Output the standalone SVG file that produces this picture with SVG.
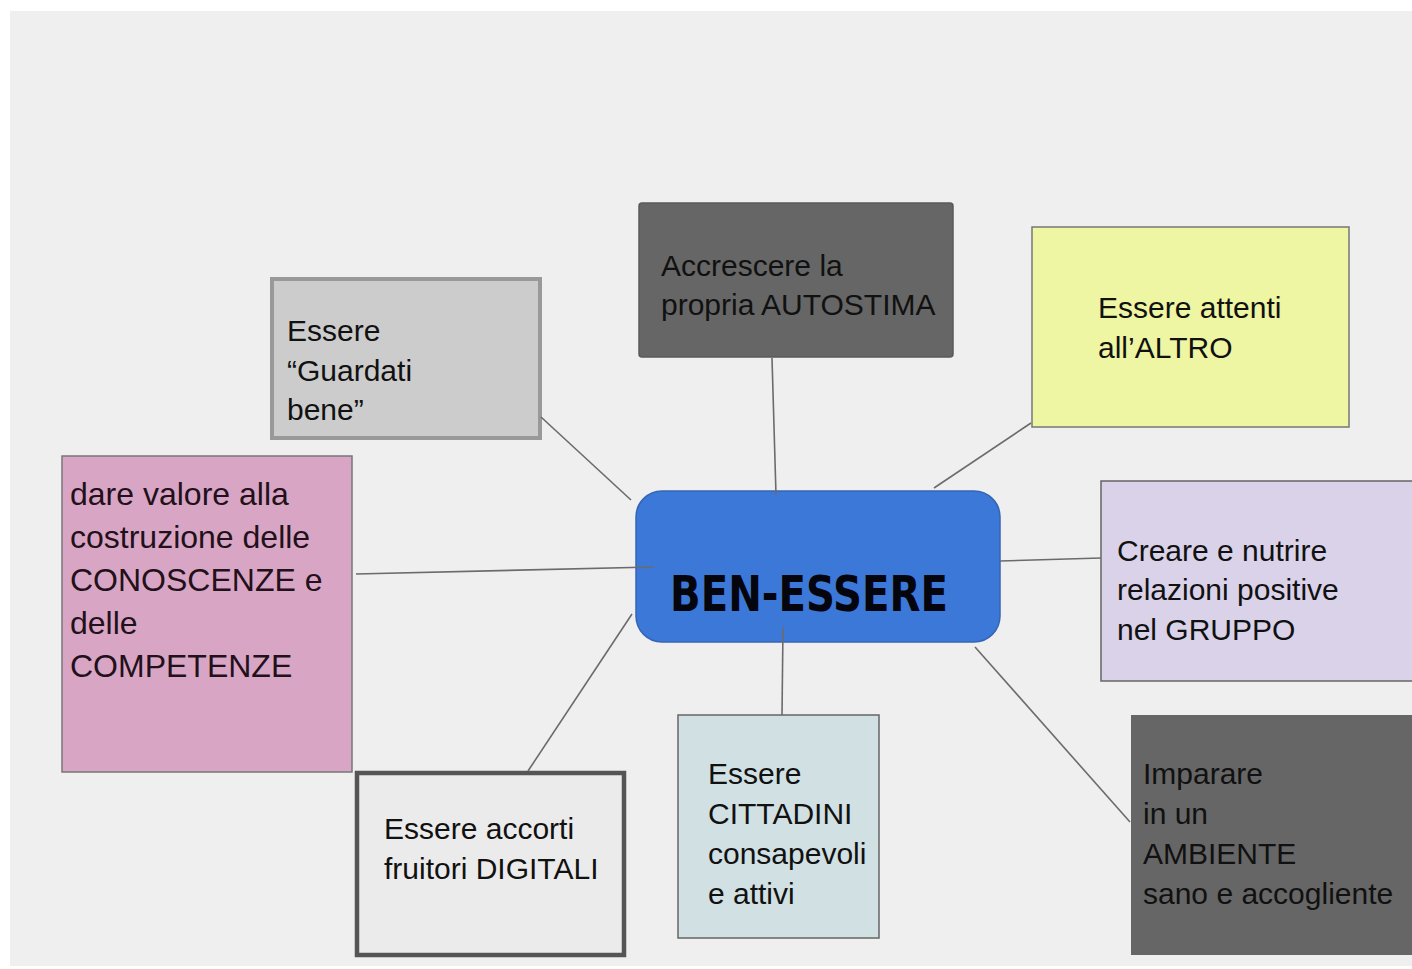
<svg xmlns="http://www.w3.org/2000/svg" width="1412" height="969" viewBox="0 0 1412 969">
<style>
.t{font-family:"Liberation Sans",Arial,sans-serif;font-size:30px;fill:#111}
.c{stroke:#6b6b6b;stroke-width:1.6;fill:none}
</style>
<rect x="0" y="0" width="1412" height="969" fill="#ffffff"/>
<rect x="10" y="11" width="1402" height="955" fill="#efefef"/>
<g id="node-autostima">
<rect x="639" y="203" width="314" height="154" rx="3" fill="#666666" stroke="#5a5a5a" stroke-width="1.5"/>
<text class="t" x="661" y="276">Accrescere la</text>
<text class="t" x="661" y="315">propria AUTOSTIMA</text>
</g>
<g id="node-altro">
<rect x="1032" y="227" width="317" height="200" fill="#eef5a3" stroke="#777" stroke-width="1.5"/>
<text class="t" x="1098" y="318">Essere attenti</text>
<text class="t" x="1098" y="358">all’ALTRO</text>
</g>
<g id="node-guardati">
<rect x="272" y="279" width="268" height="159" fill="#cccccc" stroke="#999999" stroke-width="4"/>
<text class="t" x="287" y="341">Essere</text>
<text class="t" x="287" y="381">“Guardati</text>
<text class="t" x="287" y="420">bene”</text>
</g>
<g id="node-conoscenze">
<rect x="62" y="456" width="290" height="316" fill="#d8a6c4" stroke="#777" stroke-width="1.5"/>
<g class="t" style="font-size:32px;fill:#22101a">
<text x="70" y="505">dare valore alla</text>
<text x="70" y="548">costruzione delle</text>
<text x="70" y="591">CONOSCENZE e</text>
<text x="70" y="634">delle</text>
<text x="70" y="677">COMPETENZE</text>
</g>
</g>
<g id="node-gruppo">
<rect x="1101" y="481" width="320" height="200" fill="#d9d2e9" stroke="#666" stroke-width="1.5"/>
<text class="t" x="1117" y="561">Creare e nutrire</text>
<text class="t" x="1117" y="600">relazioni positive</text>
<text class="t" x="1117" y="640">nel GRUPPO</text>
</g>
<g id="node-ambiente">
<rect x="1131" y="715" width="290" height="240" fill="#666666"/>
<text class="t" x="1143" y="784">Imparare</text>
<text class="t" x="1143" y="824">in un</text>
<text class="t" x="1143" y="864">AMBIENTE</text>
<text class="t" x="1143" y="904">sano e accogliente</text>
</g>
<g id="node-digitali">
<rect x="357" y="773" width="267" height="182" fill="#ebebeb" stroke="#555555" stroke-width="4.5"/>
<text class="t" x="384" y="839">Essere accorti</text>
<text class="t" x="384" y="879">fruitori DIGITALI</text>
</g>
<g id="node-cittadini">
<rect x="678" y="715" width="201" height="223" fill="#d0e0e3" stroke="#666" stroke-width="1.5"/>
<text class="t" x="708" y="784">Essere</text>
<text class="t" x="708" y="824">CITTADINI</text>
<text class="t" x="708" y="864">consapevoli</text>
<text class="t" x="708" y="904">e attivi</text>
</g>
<g id="node-benessere">
<rect x="636" y="491" width="364" height="151" rx="26" fill="#3c78d8" stroke="#3565b5" stroke-width="1.5"/>
<text x="809" y="611" text-anchor="middle" textLength="278" lengthAdjust="spacingAndGlyphs" style="font-family:'DejaVu Sans',sans-serif;font-weight:bold;font-size:49px;fill:#05050d">BEN-ESSERE</text>
</g>
<g id="connectors">
<line class="c" x1="541" y1="417" x2="631" y2="500"/>
<line class="c" x1="772" y1="358" x2="776" y2="495"/>
<line class="c" x1="1031" y1="423" x2="934" y2="488"/>
<line class="c" x1="1000" y1="561" x2="1101" y2="558"/>
<line class="c" x1="356" y1="574" x2="653" y2="567"/>
<line class="c" x1="528" y1="771" x2="632" y2="614"/>
<line class="c" x1="783" y1="627" x2="782" y2="715"/>
<line class="c" x1="975" y1="647" x2="1130" y2="822"/>
</g>
</svg>
